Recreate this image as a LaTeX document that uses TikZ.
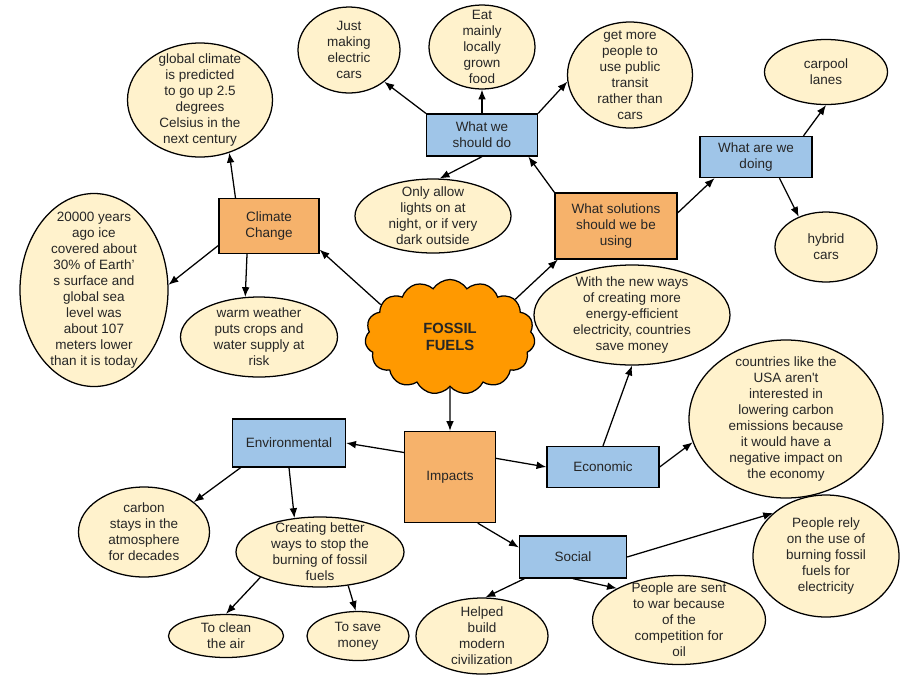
\documentclass[tikz,border=0pt]{standalone}
\usepackage{fontspec}
\setmainfont{Liberation Sans}
\usepackage{xcolor}
\usetikzlibrary{arrows.meta}
\usetikzlibrary{shapes.geometric}
\usetikzlibrary{shapes.symbols}
\definecolor{cream}{HTML}{FFF2CC}
\definecolor{skyblue}{HTML}{9FC5E8}
\definecolor{tan}{HTML}{F6B26B}
\definecolor{fuel}{HTML}{FF9900}
\definecolor{ink}{HTML}{262626}

\begin{document}
\begin{tikzpicture}[x=0.025cm,y=-0.025cm,font=\fontsize{9.6}{11.4}\selectfont,text=ink,
	bub/.style 2 args={ellipse,draw=black,line width=0.9pt,fill=cream,inner sep=0pt,minimum width=#1*0.025cm,minimum height=#2*0.025cm},
	txt/.style={align=center,inner sep=0pt},
	bluebox/.style 2 args={rectangle,draw=black,line width=0.9pt,fill=skyblue,align=center,minimum width=#1*0.025cm,minimum height=#2*0.025cm},
	tanbox/.style 2 args={rectangle,draw=black,line width=0.9pt,fill=tan,align=center,minimum width=#1*0.025cm,minimum height=#2*0.025cm},
	link/.style={-{Latex[length=7pt,width=5.5pt]},line width=0.9pt,black}]
	\fill[white] (0,0) rectangle (900,680);
	\useasboundingbox (0,0) rectangle (900,680);

	\node[cloud,cloud puffs=15,cloud puff arc=115,aspect=1.5,draw=black,line width=0.9pt,fill=fuel,
		minimum width=170*0.025cm,minimum height=115*0.025cm,align=center,font=\fontsize{10.5}{12.4}\selectfont\bfseries] (fossil) at (450,337) {FOSSIL\\FUELS};

	\node[tanbox={100}{55}] (cc) at (269,226) {Climate\\Change};
	\node[bluebox={111}{42}] (wwsd) at (482,135) {What we\\should do};
	\node[tanbox={122}{66}] (ws) at (616,226) {What solutions\\should we be\\using};
	\node[bluebox={112}{41}] (wawd) at (756,157) {What are we\\doing};
	\node[tanbox={91}{91}] (imp) at (450,477) {Impacts};
	\node[bluebox={113}{48}] (env) at (289,443) {Environmental};
	\node[bluebox={112}{41}] (econ) at (603,467) {Economic};
	\node[bluebox={107}{42}] (soc) at (573,557) {Social};

	\node[bub={102}{86}] (just) at (349,50) {};
	\node[txt] (just-t) at (just) {Just\\making\\electric\\cars};
	\node[bub={106}{84}] (eat) at (482,47) {};
	\node[txt] (eat-t) at (eat) {Eat\\mainly\\locally\\grown\\food};
	\node[bub={125}{106}] (transit) at (630,75) {};
	\node[txt] (transit-t) at (transit) {get more\\people to\\use public\\transit\\rather than\\cars};
	\node[bub={123}{65}] (carpool) at (826,72) {};
	\node[txt] (carpool-t) at (carpool) {carpool\\lanes};
	\node[bub={102}{70}] (hybrid) at (826,247) {};
	\node[txt] (hybrid-t) at (hybrid) {hybrid\\cars};
	\node[bub={145}{114}] (predict) at (200,100) {};
	\node[txt] (predict-t) at (predict) {global climate\\is predicted\\to go up 2.5\\degrees\\Celsius in the\\next century};
	\node[bub={156}{74}] (lights) at (433,216) {};
	\node[txt] (lights-t) at (lights) {Only allow\\lights on at\\night, or if very\\dark outside};
	\node[bub={148}{193}] (ice) at (94,290) {};
	\node[txt] (ice-t) at (ice) {20000 years\\ago ice\\covered about\\30\% of Earth’\\s surface and\\global sea\\level was\\about 107\\meters lower\\than it is today};
	\node[bub={157}{80}] (warm) at (259,337) {};
	\node[txt] (warm-t) at (warm) {warm weather\\puts crops and\\water supply at\\risk};
	\node[bub={196}{100}] (savings) at (632,315) {};
	\node[txt] (savings-t) at (savings) {With the new ways\\of creating more\\energy-efficient\\electricity, countries\\save money};
	\node[bub={194}{158}] (usa) at (786,419) {};
	\node[txt] (usa-t) at (usa) {countries like the\\USA aren\textquotesingle t\\interested in\\lowering carbon\\emissions because\\it would have a\\negative impact on\\the economy};
	\node[bub={131}{90}] (carbon) at (144,532) {};
	\node[txt] (carbon-t) at (carbon) {carbon\\stays in the\\atmosphere\\for decades};
	\node[bub={168}{70}] (better) at (320,552) {};
	\node[txt] (better-t) at (better) {Creating better\\ways to stop the\\burning of fossil\\fuels};
	\node[bub={115}{43}] (clean) at (226,636) {};
	\node[txt] (clean-t) at (clean) {To clean\\the air};
	\node[bub={102}{49}] (money) at (358,636) {};
	\node[txt] (money-t) at (money) {To save\\money};
	\node[bub={132}{76}] (civil) at (482,636) {};
	\node[txt] (civil-t) at (civil) {Helped\\build\\modern\\civilization};
	\node[bub={173}{89}] (war) at (679,620) {};
	\node[txt] (war-t) at (war) {People are sent\\to war because\\of the\\competition for\\oil};
	\node[bub={146}{122}] (rely) at (826,556) {};
	\node[txt] (rely-t) at (rely) {People rely\\on the use of\\burning fossil\\fuels for\\electricity};

	\draw[link] (fossil.155) -- (cc.-25);
	\draw[link] (fossil.30) -- (ws.210);
	\draw[link] (fossil.south) -- (imp.north);
	\draw[link] (cc.140) -- (predict.-61);
	\draw[link] (cc.201) -- (ice.4);
	\draw[link] (cc.232) -- (warm.109);
	\draw[link] (wwsd.north west) -- (just.-42);
	\draw[link] (wwsd.north) -- (eat.south);
	\draw[link] (wwsd.north east) -- (transit.186);
	\draw[link] (wwsd.south) -- (lights.80);
	\draw[link] (ws.north west) -- (wwsd.-25);
	\draw[link] (ws.12) -- (wawd.207);
	\draw[link] (wawd.24) -- (carpool.south);
	\draw[link] (wawd.-42) -- (hybrid.132);
	\draw[link] (imp.152) -- (env.east);
	\draw[link] (imp.22) -- (econ.west);
	\draw[link] (imp.-59) -- (soc.170);
	\draw[link] (econ.north) -- (savings.south);
	\draw[link] (econ.east) -- (usa.194);
	\draw[link] (soc.east) -- (rely.141);
	\draw[link] (soc.204) -- (civil.85);
	\draw[link] (soc.south) -- (war.153);
	\draw[link] (env.207) -- (carbon.31);
	\draw[link] (env.south) -- (better.127);
	\draw[link] (better.203) -- (clean.north);
	\draw[link] (better.-50) -- (money.95);
\end{tikzpicture}
\end{document}
